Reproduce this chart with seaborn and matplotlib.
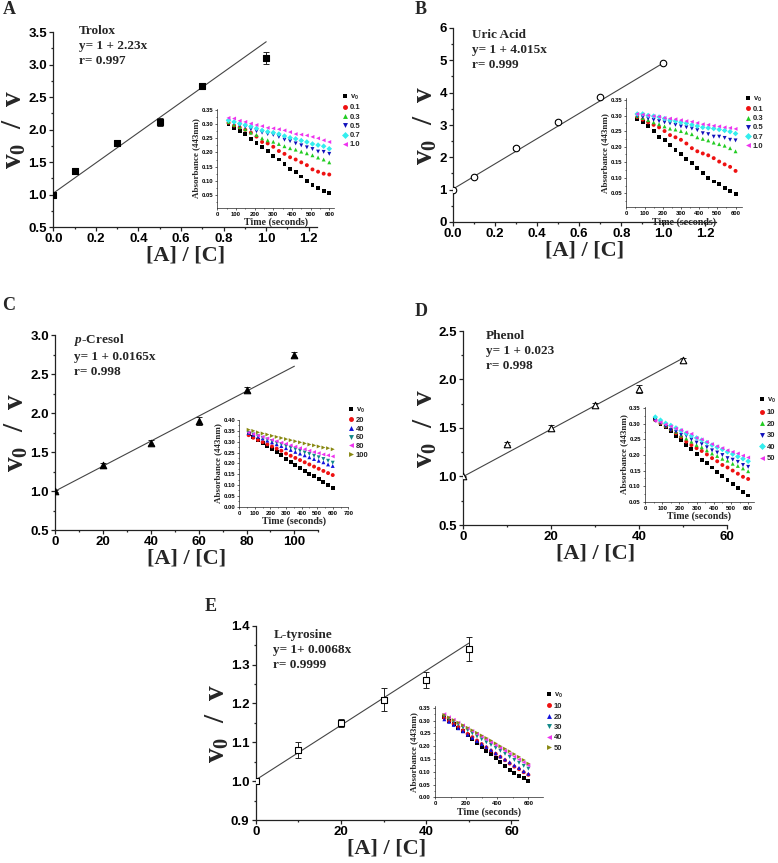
import matplotlib

matplotlib.use("Agg")

import matplotlib.pyplot as plt
import pandas as pd
import seaborn as sns
from matplotlib.ticker import FormatStrFormatter, MultipleLocator

sns.set_theme(style="ticks")
plt.rcParams["font.family"] = ["Liberation Sans", "DejaVu Sans"]
plt.rcParams["mathtext.fontset"] = "custom"
plt.rcParams["mathtext.rm"] = "Liberation Serif:bold"
plt.rcParams["mathtext.bf"] = "Liberation Serif:bold"
plt.rcParams["mathtext.it"] = "Liberation Serif:italic:bold"

W, H = 778, 863

# sampling times of the absorbance insets (s)
TIME_S = [60, 90, 120, 150, 180, 210, 240, 270, 300, 330,
          360, 390, 420, 450, 480, 510, 540, 570, 600]

# ---- A: Trolox ----
A_RATIO = [0.0, 0.1, 0.3, 0.5, 0.7, 1.0]
A_V0V = [1.00, 1.36, 1.80, 2.12, 2.67, 3.10]
A_ERR = [0.02, 0.04, 0.03, 0.06, 0.02, 0.09]
A_FIT = [1.02, 2.33]
A_LABELS = ["v0", "0.1", "0.3", "0.5", "0.7", "1.0"]
A_ABS = [
    [0.300, 0.288, 0.275, 0.265, 0.248, 0.235, 0.220, 0.205, 0.188, 0.175,
     0.160, 0.143, 0.130, 0.115, 0.100, 0.085, 0.073, 0.063, 0.055],
    [0.305, 0.295, 0.288, 0.280, 0.270, 0.256, 0.237, 0.232, 0.220, 0.205,
     0.195, 0.183, 0.175, 0.165, 0.155, 0.140, 0.132, 0.125, 0.122],
    [0.308, 0.298, 0.290, 0.282, 0.270, 0.262, 0.250, 0.243, 0.238, 0.230,
     0.222, 0.215, 0.210, 0.203, 0.197, 0.190, 0.182, 0.175, 0.165],
    [0.310, 0.303, 0.295, 0.290, 0.282, 0.275, 0.270, 0.265, 0.262, 0.255,
     0.245, 0.240, 0.232, 0.225, 0.218, 0.212, 0.203, 0.202, 0.195],
    [0.313, 0.308, 0.302, 0.297, 0.292, 0.285, 0.278, 0.273, 0.270, 0.265,
     0.258, 0.252, 0.248, 0.242, 0.237, 0.230, 0.226, 0.222, 0.213],
    [0.322, 0.320, 0.312, 0.308, 0.302, 0.297, 0.293, 0.287, 0.285, 0.282,
     0.278, 0.272, 0.265, 0.263, 0.260, 0.255, 0.250, 0.243, 0.237],
]

# ---- B: Uric acid ----
B_RATIO = [0.0, 0.1, 0.3, 0.5, 0.7, 1.0]
B_V0V = [1.00, 1.40, 2.30, 3.10, 3.87, 4.92]
B_ERR = [0.02, 0.03, 0.06, 0.04, 0.03, 0.04]
B_FIT = [1.02, 3.90]
B_LABELS = ["v0", "0.1", "0.3", "0.5", "0.7", "1.0"]
B_ABS = [
    [0.290, 0.280, 0.265, 0.250, 0.232, 0.220, 0.205, 0.190, 0.175, 0.160,
     0.148, 0.132, 0.115, 0.100, 0.088, 0.080, 0.068, 0.058, 0.047],
    [0.295, 0.287, 0.278, 0.270, 0.262, 0.250, 0.237, 0.230, 0.222, 0.210,
     0.195, 0.185, 0.178, 0.172, 0.163, 0.152, 0.143, 0.135, 0.122],
    [0.298, 0.292, 0.285, 0.278, 0.272, 0.265, 0.258, 0.255, 0.250, 0.245,
     0.240, 0.230, 0.225, 0.220, 0.213, 0.208, 0.203, 0.195, 0.185],
    [0.298, 0.295, 0.290, 0.286, 0.282, 0.278, 0.275, 0.270, 0.265, 0.262,
     0.258, 0.253, 0.243, 0.240, 0.232, 0.232, 0.228, 0.222, 0.220],
    [0.305, 0.305, 0.300, 0.298, 0.295, 0.290, 0.285, 0.282, 0.278, 0.275,
     0.270, 0.266, 0.262, 0.260, 0.258, 0.255, 0.252, 0.248, 0.242],
    [0.305, 0.303, 0.300, 0.298, 0.296, 0.292, 0.290, 0.288, 0.285, 0.282,
     0.280, 0.276, 0.272, 0.270, 0.267, 0.265, 0.262, 0.260, 0.257],
]

# ---- C: p-Cresol ----
C_RATIO = [0, 20, 40, 60, 80, 100]
C_V0V = [1.00, 1.33, 1.62, 1.90, 2.30, 2.75]
C_ERR = [0.01, 0.03, 0.03, 0.05, 0.03, 0.03]
C_FIT = [1.00, 0.0160]
C_LABELS = ["v0", "20", "40", "60", "80", "100"]
C_ABS = [
    [0.335, 0.320, 0.308, 0.295, 0.280, 0.265, 0.252, 0.238, 0.220, 0.205,
     0.192, 0.178, 0.165, 0.152, 0.140, 0.128, 0.113, 0.100, 0.088],
    [0.330, 0.318, 0.308, 0.298, 0.288, 0.278, 0.268, 0.258, 0.245, 0.235,
     0.225, 0.215, 0.205, 0.195, 0.185, 0.175, 0.165, 0.155, 0.146],
    [0.340, 0.332, 0.323, 0.315, 0.305, 0.297, 0.288, 0.280, 0.270, 0.262,
     0.253, 0.245, 0.237, 0.228, 0.220, 0.212, 0.205, 0.195, 0.188],
    [0.340, 0.333, 0.325, 0.318, 0.310, 0.303, 0.295, 0.288, 0.280, 0.272,
     0.265, 0.258, 0.250, 0.243, 0.235, 0.228, 0.220, 0.212, 0.203],
    [0.342, 0.335, 0.328, 0.322, 0.315, 0.308, 0.302, 0.295, 0.290, 0.283,
     0.277, 0.270, 0.265, 0.258, 0.252, 0.247, 0.241, 0.237, 0.232],
    [0.355, 0.350, 0.343, 0.338, 0.333, 0.327, 0.322, 0.317, 0.312, 0.307,
     0.302, 0.297, 0.292, 0.287, 0.283, 0.278, 0.273, 0.270, 0.265],
]

# ---- D: Phenol ----
D_RATIO = [0, 10, 20, 30, 40, 50]
D_V0V = [1.00, 1.34, 1.50, 1.74, 1.90, 2.20]
D_ERR = [0.01, 0.02, 0.03, 0.02, 0.04, 0.02]
D_FIT = [1.00, 0.0244]
D_LABELS = ["v0", "10", "20", "30", "40", "50"]
D_ABS = [
    [0.315, 0.300, 0.290, 0.278, 0.262, 0.248, 0.233, 0.218, 0.203, 0.185,
     0.175, 0.160, 0.145, 0.133, 0.120, 0.106, 0.095, 0.082, 0.070],
    [0.312, 0.302, 0.292, 0.282, 0.270, 0.258, 0.243, 0.232, 0.222, 0.213,
     0.202, 0.190, 0.180, 0.168, 0.160, 0.150, 0.140, 0.130, 0.123],
    [0.315, 0.305, 0.295, 0.285, 0.275, 0.263, 0.253, 0.243, 0.232, 0.225,
     0.215, 0.205, 0.197, 0.188, 0.182, 0.172, 0.165, 0.157, 0.148],
    [0.310, 0.303, 0.292, 0.280, 0.275, 0.265, 0.262, 0.250, 0.240, 0.235,
     0.225, 0.215, 0.208, 0.200, 0.190, 0.185, 0.178, 0.168, 0.162],
    [0.322, 0.312, 0.302, 0.295, 0.287, 0.278, 0.270, 0.262, 0.255, 0.248,
     0.240, 0.232, 0.225, 0.218, 0.210, 0.203, 0.195, 0.188, 0.180],
    [0.310, 0.305, 0.298, 0.292, 0.285, 0.280, 0.273, 0.268, 0.255, 0.250,
     0.242, 0.235, 0.228, 0.222, 0.215, 0.210, 0.205, 0.198, 0.192],
]

# ---- E: L-tyrosine ----
E_RATIO = [0, 10, 20, 30, 40, 50]
E_V0V = [1.00, 1.08, 1.15, 1.21, 1.26, 1.34]
E_ERR = [0.005, 0.02, 0.01, 0.03, 0.02, 0.03]
E_FIT = [1.003, 0.00704]
E_LABELS = ["v0", "10", "20", "30", "40", "50"]
E_ABS = [
    [0.315, 0.300, 0.288, 0.270, 0.258, 0.243, 0.228, 0.212, 0.198, 0.182,
     0.168, 0.155, 0.138, 0.122, 0.108, 0.095, 0.085, 0.075, 0.065],
    [0.310, 0.298, 0.287, 0.275, 0.262, 0.248, 0.235, 0.222, 0.208, 0.195,
     0.182, 0.170, 0.158, 0.145, 0.132, 0.120, 0.110, 0.098, 0.088],
    [0.305, 0.295, 0.283, 0.270, 0.258, 0.245, 0.233, 0.220, 0.208, 0.197,
     0.185, 0.172, 0.160, 0.148, 0.137, 0.125, 0.115, 0.102, 0.092],
    [0.318, 0.307, 0.296, 0.285, 0.273, 0.262, 0.250, 0.238, 0.227, 0.215,
     0.205, 0.193, 0.182, 0.170, 0.158, 0.146, 0.135, 0.123, 0.112],
    [0.325, 0.313, 0.303, 0.292, 0.281, 0.270, 0.259, 0.248, 0.237, 0.226,
     0.215, 0.204, 0.193, 0.182, 0.170, 0.159, 0.148, 0.137, 0.125],
    [0.322, 0.312, 0.302, 0.292, 0.282, 0.272, 0.262, 0.252, 0.242, 0.232,
     0.222, 0.211, 0.200, 0.190, 0.180, 0.169, 0.158, 0.146, 0.132],
]

COLORS_1 = ["#000000", "#ee1111", "#22cc22", "#1111bb", "#33eeee", "#ee33ee"]
MARKERS_1 = ["s", "o", "^", "v", "D", "<"]
COLORS_2 = ["#000000", "#ee1111", "#1111dd", "#118888", "#ee33ee", "#888811"]
MARKERS_2 = ["s", "o", "^", "v", "<", ">"]

SERIF = "Liberation Serif"
SANS = "Liberation Sans"


def rect(left, top, right, bottom):
    return [left / W, 1 - bottom / H, (right - left) / W, (bottom - top) / H]


def style_axis(ax, size, lw, length):
    sns.despine(ax=ax)
    for side in ("left", "bottom"):
        ax.spines[side].set_linewidth(lw)
        ax.spines[side].set_color("#222222")
    ax.tick_params(which="major", direction="out", length=length, width=lw,
                   labelsize=size, pad=1.5, colors="#222222")
    ax.tick_params(which="minor", direction="out", length=length * 0.55, width=lw)
    for lab in ax.get_xticklabels() + ax.get_yticklabels():
        lab.set_fontweight("bold")
        lab.set_color("black")


def draw_panel(fig, p):
    ax = fig.add_axes(rect(*p["main"]))
    x_last = p["x"][-1]
    sns.lineplot(x=[0, x_last], y=[p["fit"][0], p["fit"][0] + p["fit"][1] * x_last],
                 color="#444444", linewidth=0.8, ax=ax, zorder=1)
    ax.errorbar(p["x"], p["y"], yerr=p["err"], fmt="none", ecolor="#222222",
                elinewidth=0.7, capsize=2, capthick=0.7, zorder=2)
    sns.scatterplot(x=p["x"], y=p["y"], marker=p["marker"], s=p["msize"],
                    color=p["face"], edgecolor="black", linewidth=0.8, ax=ax, zorder=3)
    ax.set_xlim(*p["xlim"])
    ax.set_ylim(*p["ylim"])
    ax.xaxis.set_major_locator(MultipleLocator(p["xmaj"]))
    ax.xaxis.set_minor_locator(MultipleLocator(p["xmaj"] / 2))
    ax.yaxis.set_major_locator(MultipleLocator(p["ymaj"]))
    ax.yaxis.set_minor_locator(MultipleLocator(p["ymaj"] / 2))
    ax.xaxis.set_major_formatter(FormatStrFormatter(p["xfmt"]))
    ax.yaxis.set_major_formatter(FormatStrFormatter(p["yfmt"]))
    style_axis(ax, 9.5, 0.9, 3)
    ax.set_xlabel("[A] / [C]", family=SERIF, fontweight="bold", fontsize=16, labelpad=0)
    ax.set_ylabel(r"v$_\mathbf{0}$  /  v", family=SERIF, fontweight="bold", fontsize=21,
                  labelpad=0)

    fig.text(p["text_at"][0] / W, 1 - p["text_at"][1] / H, p["text"], family=SERIF,
             fontweight="bold", fontsize=9.5, va="top", ha="left", linespacing=1.35)
    fig.text(p["letter_at"][0] / W, 1 - p["letter_at"][1] / H, p["letter"], family=SERIF,
             fontweight="bold", fontsize=13, va="center", ha="center")

    # absorbance inset
    ins = fig.add_axes(rect(*p["inset"]))
    frames = []
    for lab, vals in zip(p["labels"], p["abs"]):
        frames.append(pd.DataFrame({"time": TIME_S, "absorb": vals, "series": lab}))
    df = pd.concat(frames, ignore_index=True)
    sns.scatterplot(data=df, x="time", y="absorb", hue="series", style="series",
                    palette=dict(zip(p["labels"], p["colors"])),
                    markers=dict(zip(p["labels"], p["markers"])),
                    s=8, linewidth=0, ax=ins)
    ins.set_xlim(*p["ixlim"])
    ins.set_ylim(*p["iylim"])
    ins.xaxis.set_major_locator(MultipleLocator(p["ixmaj"]))
    ins.xaxis.set_minor_locator(MultipleLocator(p["ixmaj"] / 2))
    ins.yaxis.set_major_locator(MultipleLocator(0.05))
    ins.yaxis.set_minor_locator(MultipleLocator(0.025))
    ins.yaxis.set_major_formatter(FormatStrFormatter("%.2f"))
    style_axis(ins, 4.2, 0.5, 1.5)
    ins.set_xlabel("Time (seconds)", family=SERIF, fontweight="bold", fontsize=7.2, labelpad=0.5)
    ins.set_ylabel("Absorbance (443nm)", family=SERIF, fontweight="bold", fontsize=6.5,
                   labelpad=1)

    sns.move_legend(ins, loc="upper left", bbox_to_anchor=(p["leg_at"][0] / W, 1 - p["leg_at"][1] / H),
                    bbox_transform=fig.transFigure, title=None, frameon=False,
                    fontsize=5.5, markerscale=1.25, handlelength=0.8, handletextpad=0.25,
                    labelspacing=p["leg_sp"], borderpad=0, borderaxespad=0)
    leg = ins.get_legend()
    for t in leg.get_texts():
        t.set_fontweight("bold")
        if t.get_text() == "v0":
            t.set_text(r"v$_\mathregular{0}$")


PANELS = [
    dict(letter="A", x=A_RATIO, y=A_V0V, err=A_ERR, fit=A_FIT, marker="s", face="black", msize=18,
         labels=A_LABELS, abs=A_ABS, colors=COLORS_1, markers=MARKERS_1,
         main=(53.3, 32, 317.3, 227), xlim=(0, 1.24), ylim=(0.5, 3.5), xmaj=0.2, ymaj=0.5,
         xfmt="%.1f", yfmt="%.1f",
         inset=(217.3, 108.6, 334.3, 207.6), ixlim=(0, 627), iylim=(0.005, 0.355), ixmaj=100,
         leg_at=(342, 93), leg_sp=0.25,
         text="Trolox\ny= 1 + 2.23x\nr= 0.997", text_at=(79.3, 25), letter_at=(9, 9)),
    dict(letter="B", x=B_RATIO, y=B_V0V, err=B_ERR, fit=B_FIT, marker="o", face="white", msize=22,
         labels=B_LABELS, abs=B_ABS, colors=COLORS_1, markers=MARKERS_1,
         main=(453, 28, 716, 222), xlim=(0, 1.25), ylim=(0, 6), xmaj=0.2, ymaj=1,
         xfmt="%.1f", yfmt="%d",
         inset=(626.3, 98.4, 742.3, 207.3), ixlim=(0, 637), iylim=(0.005, 0.355), ixmaj=100,
         leg_at=(745, 94.5), leg_sp=0.25,
         text="Uric Acid\ny= 1 + 4.015x\nr= 0.999", text_at=(472.3, 29), letter_at=(421, 9)),
    dict(letter="C", x=C_RATIO, y=C_V0V, err=C_ERR, fit=C_FIT, marker="^", face="black", msize=22,
         labels=C_LABELS, abs=C_ABS, colors=COLORS_2, markers=MARKERS_2,
         main=(55.3, 335, 318.3, 530), xlim=(0, 110), ylim=(0.5, 3.0), xmaj=20, ymaj=0.5,
         xfmt="%d", yfmt="%.1f",
         inset=(239.3, 420, 348.3, 506.7), ixlim=(0, 700), iylim=(0, 0.40), ixmaj=100,
         leg_at=(347.5, 406), leg_sp=0.18,
         text="$\\mathit{p}$-Cresol\ny= 1 + 0.0165x\nr= 0.998", text_at=(74, 331.5),
         letter_at=(9, 306)),
    dict(letter="D", x=D_RATIO, y=D_V0V, err=D_ERR, fit=D_FIT, marker="^", face="white", msize=22,
         labels=D_LABELS, abs=D_ABS, colors=COLORS_1, markers=MARKERS_1,
         main=(463.3, 331, 727, 525), xlim=(0, 60), ylim=(0.5, 2.5), xmaj=20, ymaj=0.5,
         xfmt="%d", yfmt="%.1f",
         inset=(645, 406.8, 754, 501.7), ixlim=(0, 634), iylim=(0.05, 0.355), ixmaj=100,
         leg_at=(758.5, 395.5), leg_sp=0.55,
         text="Phenol\ny= 1 + 0.023\nr= 0.998", text_at=(485.7, 330), letter_at=(421, 311.5)),
    dict(letter="E", x=E_RATIO, y=E_V0V, err=E_ERR, fit=E_FIT, marker="s", face="white", msize=20,
         labels=E_LABELS, abs=E_ABS, colors=COLORS_2, markers=MARKERS_2,
         main=(255.7, 625.7, 518.3, 820), xlim=(0, 61.6), ylim=(0.9, 1.4), xmaj=20, ymaj=0.1,
         xfmt="%d", yfmt="%.1f",
         inset=(435, 706, 543.3, 797.3), ixlim=(0, 696), iylim=(0, 0.357), ixmaj=200,
         leg_at=(546, 690.5), leg_sp=0.4,
         text="L-tyrosine\ny= 1+ 0.0068x\nr= 0.9999", text_at=(273.3, 629), letter_at=(211, 606)),
]

fig = plt.figure(figsize=(W / 100, H / 100), dpi=100)
fig.patch.set_facecolor("white")
for panel in PANELS:
    draw_panel(fig, panel)

fig.savefig("out.png", dpi=100, facecolor="white")
